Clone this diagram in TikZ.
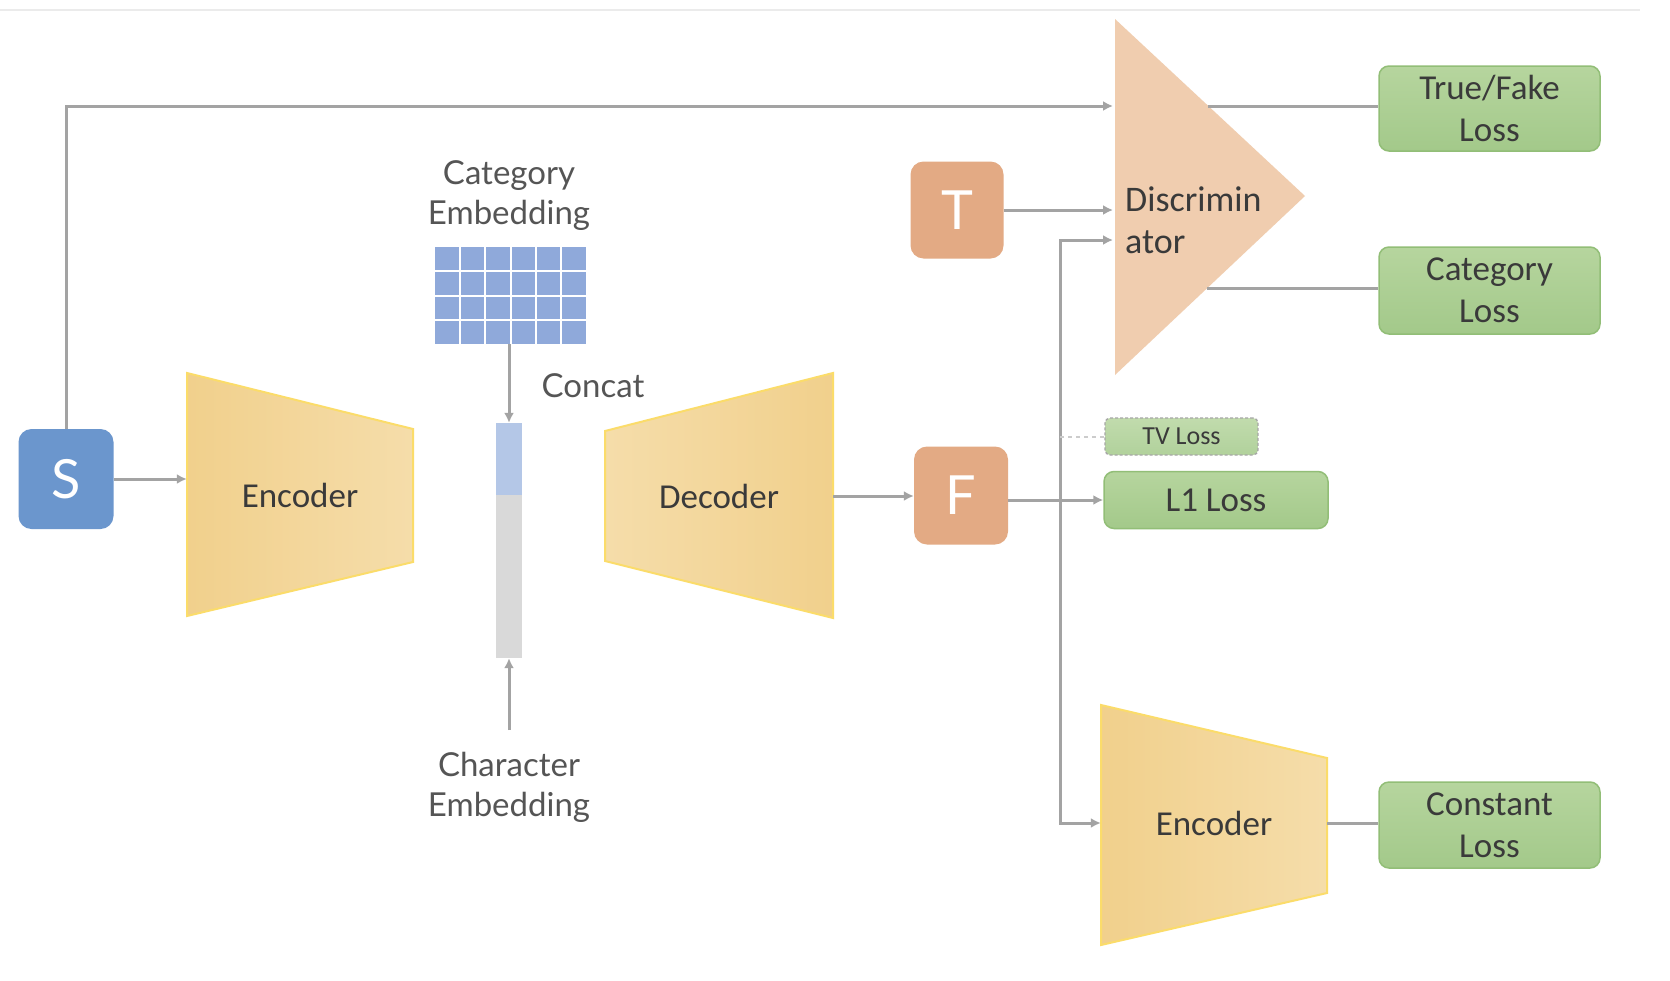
\documentclass[tikz,border=0pt]{standalone}
\usepackage{fontspec}
\setmainfont{Carlito}
\newfontfamily\latofont{Lato}
\usetikzlibrary{arrows.meta,calc}
\definecolor{sblue}{HTML}{6B96CD}
\definecolor{encfillA}{HTML}{F1D08C}
\definecolor{encfillB}{HTML}{F5DDAA}
\definecolor{encdraw}{HTML}{FBDC6A}
\definecolor{gridblue}{HTML}{8FA9DA}
\definecolor{barblue}{HTML}{B4C7E7}
\definecolor{bargrey}{HTML}{D9D9D9}
\definecolor{orangebox}{HTML}{E3AA84}
\definecolor{discc}{HTML}{F0CDAF}
\definecolor{greenA}{HTML}{B6D59E}
\definecolor{greenB}{HTML}{A3C98A}
\definecolor{greendraw}{HTML}{92BE77}
\definecolor{lgrey}{HTML}{A3A3A3}
\definecolor{txtdark}{HTML}{3A3A3A}
\definecolor{txtgrey}{HTML}{555555}
\tikzset{
  conn/.style={draw=lgrey, line width=3pt},
  arr/.style={conn, -{Latex[length=10pt,width=10pt]}},
  letterbox/.style={rounded corners=13pt, text=white, inner sep=0pt,
     font=\latofont\fontsize{54}{60}\selectfont},
  encshape/.style={draw=encdraw, line width=2pt, line join=miter},
  enclbl/.style={inner sep=0pt, minimum height=2pt, text=txtdark,
     font=\fontsize{35}{40}\selectfont},
  lossbox/.style={draw=greendraw, line width=1.5pt, rounded corners=10pt,
     top color=greenA, bottom color=greenB, text=txtdark, align=center,
     inner sep=0pt, font=\fontsize{35}{42}\selectfont},
  emblbl/.style={align=center, text=txtgrey, inner sep=0pt,
     font=\latofont\fontsize{33}{40}\selectfont},
}
\begin{document}
\begin{tikzpicture}[x=1pt,y=-1pt]
\useasboundingbox (0,0) rectangle (1670,980);
\fill[white] (0,0) rectangle (1670,980);
\draw[draw=black!8, line width=1.5pt] (0,10) -- (1640,10);

% S
\node[letterbox, fill=sblue, minimum width=95pt, minimum height=100pt] (S) at (66,479) {S};

% Encoder 1
\shade[encshape, left color=encfillA, right color=encfillB] (187,373) -- (413,429) -- (413,562) -- (187,616) -- cycle;
\node[enclbl, minimum width=226pt] (enc1) at (300,495) {Encoder};

% Category embedding
\node[emblbl] (catemb) at (509,196) {Category\\Embedding};
\node[fill=gridblue, minimum width=151pt, minimum height=97pt, inner sep=0pt] (grid) at (510.5,295.5) {};
\foreach \i in {1,...,5} {
  \draw[white, line width=2pt] ($(grid.north west)!\i/6!(grid.north east)$) -- ($(grid.south west)!\i/6!(grid.south east)$);
}
\foreach \j in {1,...,3} {
  \draw[white, line width=2pt] ($(grid.north west)!\j/4!(grid.south west)$) -- ($(grid.north east)!\j/4!(grid.south east)$);
}

% concat bar
\node[fill=bargrey, minimum width=26pt, minimum height=235pt, inner sep=0pt] (bar) at (509,540.5) {};
\fill[barblue] (bar.north west) rectangle ($(bar.north east)+(0,72)$);
\node[text=txtgrey, inner sep=0pt, font=\latofont\fontsize{33}{40}\selectfont] (concat) at (593,386) {Concat};
\node[emblbl] (charemb) at (509,787) {Character\\Embedding};
\coordinate (cstart) at (509,730);
\draw[arr] (grid.south -| bar.north) -- (bar.north);
\draw[arr] (cstart) -- (bar.south);

% Decoder
\shade[encshape, left color=encfillB, right color=encfillA] (605,431) -- (833,373) -- (833,618) -- (605,561) -- cycle;
\node[enclbl, minimum width=228pt] (dec) at (719,496) {Decoder};

% F and T
\node[letterbox, fill=orangebox, minimum width=94pt, minimum height=98pt] (F) at (961,495.5) {F};
\node[letterbox, fill=orangebox, minimum width=93pt, minimum height=97pt] (T) at (957,210) {T};

% Discriminator
\fill[discc] (1115,19) -- (1305,196) -- (1115,375) -- cycle;
\node[align=left, anchor=west, inner sep=0pt, text=txtdark, font=\fontsize{36}{42}\selectfont] (disc) at (1125,220) {Discrimin\\ator};
\coordinate (din1) at (1113,106);
\coordinate (din2) at (1113,210);
\coordinate (din3) at (1113,240);
\coordinate (dout1) at (1208,106);
\coordinate (dout2) at (1207,288);

% Loss boxes
\node[lossbox, minimum width=221pt, minimum height=85pt] (tf) at (1489.5,108.5) {True/Fake\\Loss};
\node[lossbox, minimum width=221pt, minimum height=87pt] (catloss) at (1489.5,290.5) {Category\\Loss};
\node[lossbox, minimum width=224pt, minimum height=57pt] (l1) at (1216,500) {L1 Loss};
\node[lossbox, draw=black!35, dash pattern=on 3pt off 2pt, line width=1.3pt, rounded corners=5pt, top color=greenA!85!white, bottom color=greenB!85!white,
      minimum width=153pt, minimum height=37pt, font=\fontsize{26}{30}\selectfont] (tv) at (1181.5,436.5) {TV Loss};
\node[lossbox, minimum width=221pt, minimum height=86pt] (const) at (1489.5,825) {Constant\\Loss};

% Encoder 2
\shade[encshape, left color=encfillA, right color=encfillB] (1101,705) -- (1327,758) -- (1327,893) -- (1101,945) -- cycle;
\node[enclbl, minimum width=226pt] (enc2) at (1214,823) {Encoder};

% connectors
\coordinate (jn) at (1060,500);
\coordinate (vtop) at (1060,240);
\coordinate (vbot) at (1060,823);
\coordinate (tvj) at (1060,436.5);
\draw[arr] (S.east) -- (S.east -| enc1.west);
\draw[arr] (S.north) |- (din1);
\draw[arr] (dec.east) -- (dec.east -| F.west);
\draw[arr] (F.east |- l1.west) -- (l1.west);
\draw[arr] (jn) -- (vtop) -- (din3);
\draw[arr] (jn) -- (vbot) -- (enc2.west);
\draw[arr] (T.east) -- (din2);
\draw[draw=black!20, line width=2pt, dash pattern=on 4pt off 4pt] (tvj) -- (tv.west);
\draw[conn] (dout1) -- (dout1 -| tf.west);
\draw[conn] (dout2) -- (dout2 -| catloss.west);
\draw[conn] (enc2.east) -- (enc2.east -| const.west);
\end{tikzpicture}
\end{document}
